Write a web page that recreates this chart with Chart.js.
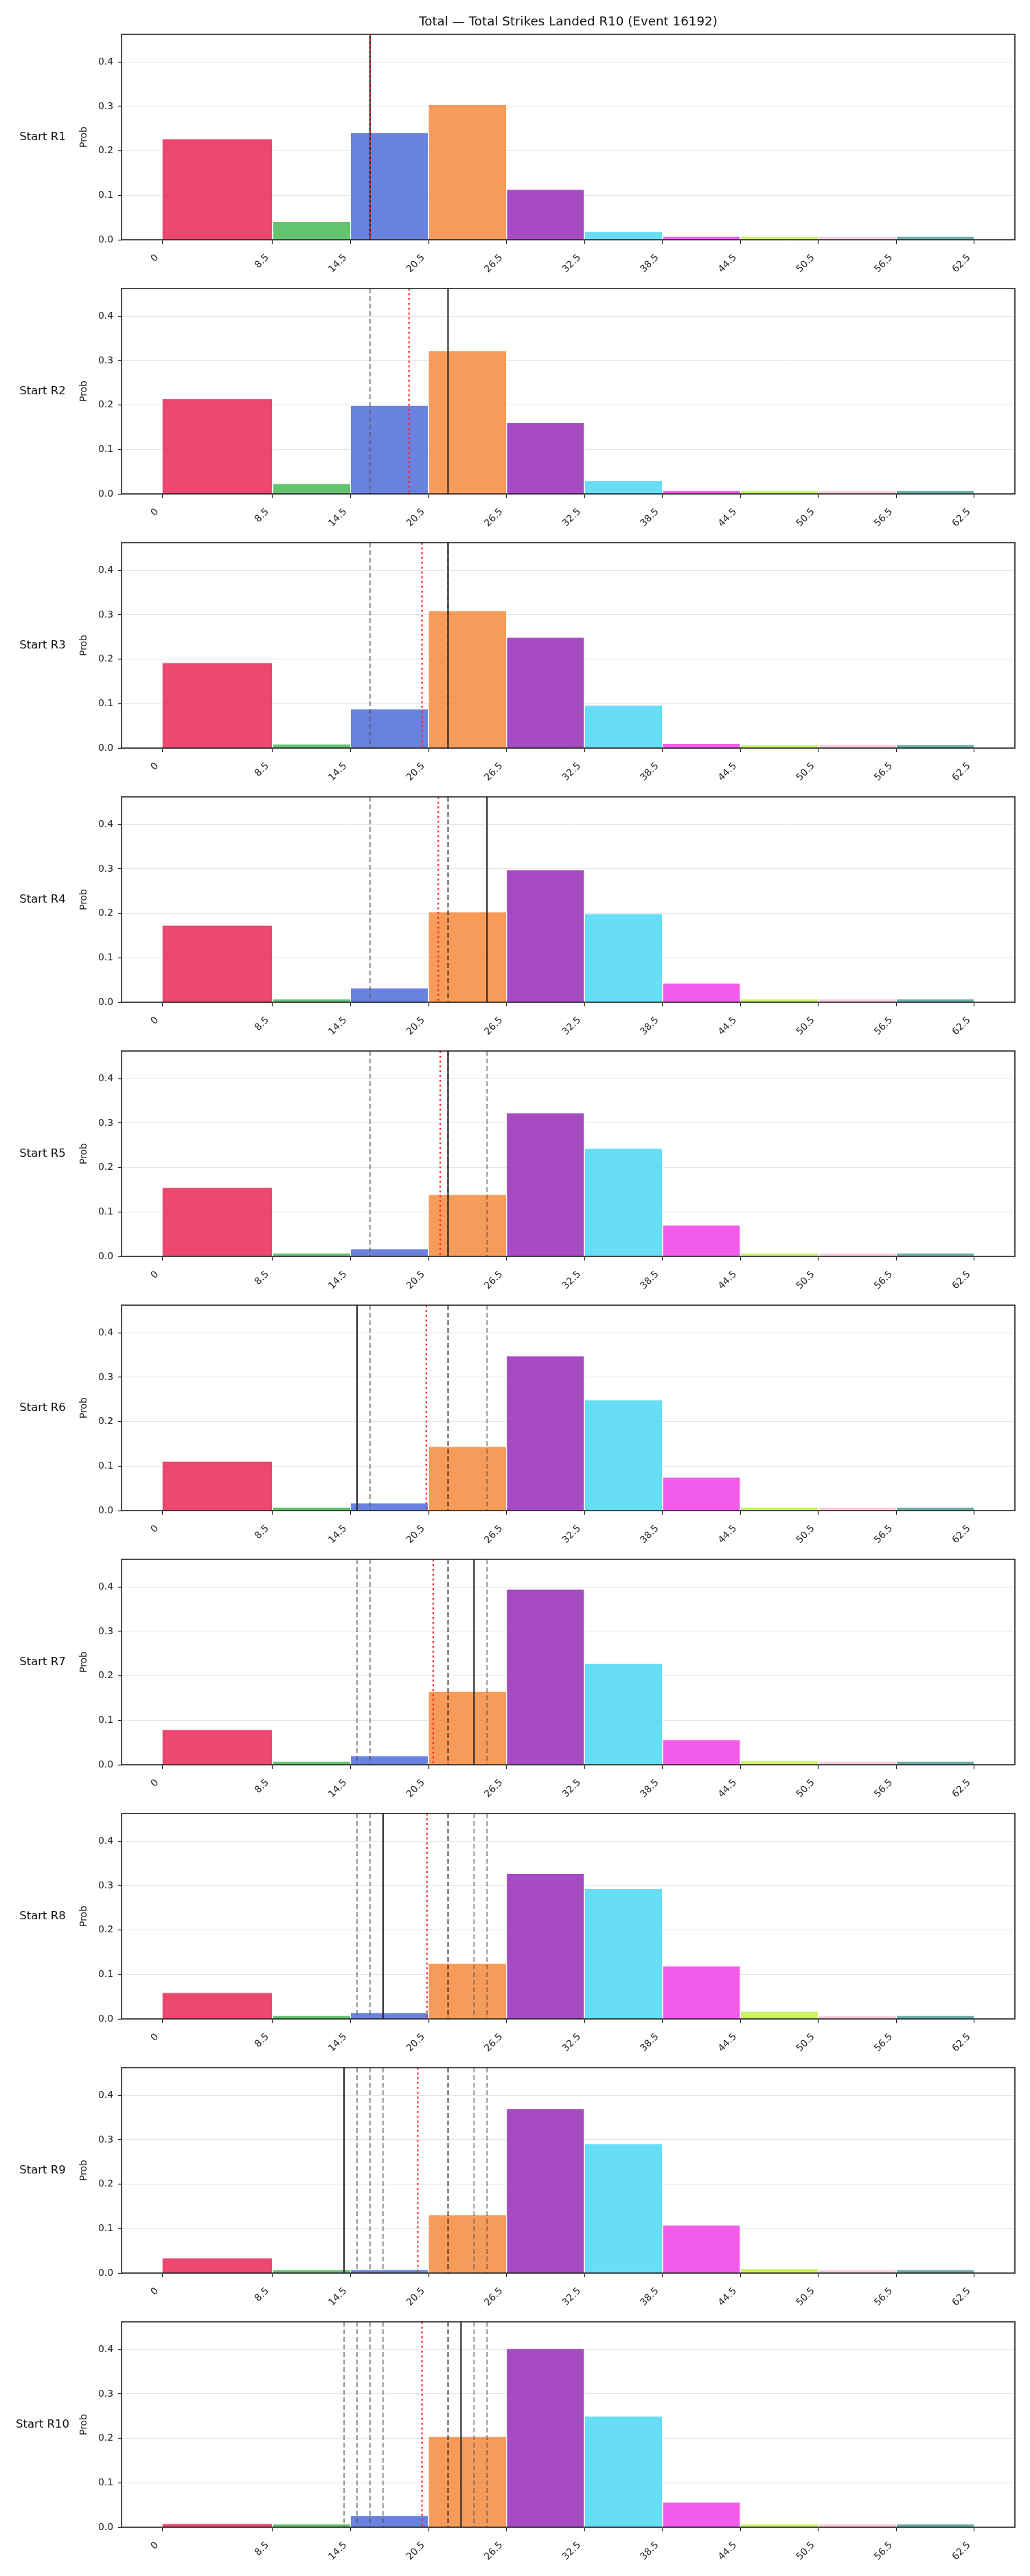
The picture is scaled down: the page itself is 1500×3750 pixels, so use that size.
<!DOCTYPE html>
<html>
<head>
<meta charset="utf-8">
<title>Total Strikes Landed R10</title>
<script src="https://cdn.jsdelivr.net/npm/chart.js@4.4.1/dist/chart.umd.min.js"></script>
<style>
  body { margin: 0; background: #fff; }
  #wrap { position: relative; width: 1500px; height: 3750px; }
  #wrap canvas { position: absolute; left: 0; }
</style>
</head>
<body>
<div id="wrap"></div>
<script>
"use strict";

/**
 * @file Tio histogram (ett per rond) över sannolikheten för antal landade slag.
 * Vertikala linjer visar utfall per rond, tidigare utfall och löpande medel.
 */

const chartTitle = "Total \u2014 Total Strikes Landed R10 (Event 16192)";
const binEdges = [0, 8.5, 14.5, 20.5, 26.5, 32.5, 38.5, 44.5, 50.5, 56.5, 62.5];
const tickLabels = ["0", "8.5", "14.5", "20.5", "26.5", "32.5", "38.5", "44.5", "50.5", "56.5", "62.5"];
const roundLabels = ["Start R1", "Start R2", "Start R3", "Start R4", "Start R5",
  "Start R6", "Start R7", "Start R8", "Start R9", "Start R10"];

const probR1 = [0.227, 0.041, 0.241, 0.304, 0.113, 0.018, 0.0075, 0.0075, 0.0075, 0.0075];
const probR2 = [0.214, 0.023, 0.199, 0.322, 0.160, 0.030, 0.0075, 0.0075, 0.0075, 0.0075];
const probR3 = [0.192, 0.009, 0.088, 0.309, 0.249, 0.096, 0.010, 0.0075, 0.0075, 0.0075];
const probR4 = [0.173, 0.0075, 0.032, 0.203, 0.298, 0.199, 0.043, 0.0075, 0.0075, 0.0075];
const probR5 = [0.155, 0.0075, 0.017, 0.139, 0.323, 0.243, 0.070, 0.0075, 0.0075, 0.0075];
const probR6 = [0.111, 0.0075, 0.017, 0.144, 0.348, 0.249, 0.075, 0.0075, 0.0075, 0.0075];
const probR7 = [0.079, 0.0075, 0.020, 0.165, 0.395, 0.228, 0.056, 0.009, 0.0075, 0.0075];
const probR8 = [0.059, 0.0075, 0.014, 0.125, 0.327, 0.293, 0.119, 0.017, 0.0075, 0.0075];
const probR9 = [0.034, 0.0075, 0.0075, 0.131, 0.370, 0.291, 0.108, 0.010, 0.0075, 0.0075];
const probR10 = [0.008, 0.0075, 0.026, 0.204, 0.402, 0.250, 0.056, 0.0075, 0.0075, 0.0075];
const roundProbs = [probR1, probR2, probR3, probR4, probR5, probR6, probR7, probR8, probR9, probR10];

// utfall i ronden (heldragen), löpande medel (röd prickad), vanligaste tidigare (svart streckad)
const actualLine = [16, 22, 22, 25, 22, 15, 24, 17, 14, 23];
const meanLine = [16, 19, 20, 21.25, 21.4, 20.33, 20.86, 20.38, 19.67, 20];
const modeLine = [null, null, 22, 22, 22, 22, 22, 22, 22, 22];
// tidigare utfall (grå streckad)
const previousLines = [
  [],
  [16],
  [16],
  [16],
  [16, 25],
  [16, 25],
  [15, 16, 25],
  [15, 16, 24, 25],
  [15, 16, 17, 24, 25],
  [14, 15, 16, 17, 24, 25],
];

const binColors = [
  "rgba(230,25,75,0.8)", "rgba(60,180,75,0.8)", "rgba(67,99,216,0.8)",
  "rgba(245,130,49,0.8)", "rgba(145,30,180,0.8)", "rgba(66,212,244,0.8)",
  "rgba(240,50,230,0.8)", "rgba(191,239,69,0.8)", "rgba(250,190,212,0.8)",
  "rgba(70,153,144,0.8)",
];

const FONT = "'DejaVu Sans', sans-serif";
Chart.defaults.font.family = FONT;
Chart.defaults.color = "#222";

const yTop = Math.max(...roundProbs.flat()) * 1.15;
const xPad = (binEdges[binEdges.length - 1] - binEdges[0]) * 0.05;

/**
 * Ritar de vertikala markeringslinjerna, ramen, x-etiketterna och radetiketten.
 */
const markerPlugin = {
  id: "markers",
  afterDatasetsDraw(chart, args, opts) {
    const { ctx, chartArea: a, scales } = chart;
    const vline = (v, color, width, dash) => {
      const x = scales.x.getPixelForValue(v);
      ctx.beginPath();
      ctx.strokeStyle = color;
      ctx.lineWidth = width;
      ctx.setLineDash(dash);
      ctx.moveTo(x, a.top);
      ctx.lineTo(x, a.bottom);
      ctx.stroke();
    };
    ctx.save();
    ctx.beginPath();
    ctx.rect(a.left, a.top, a.right - a.left, a.bottom - a.top);
    ctx.clip();
    opts.previous.forEach((v) => vline(v, "rgba(80,80,80,0.8)", 1.5, [7, 4]));
    if (opts.mode !== null) vline(opts.mode, "#111", 1.6, [7, 4]);
    vline(opts.actual, "#2b2b2b", 2.2, []);
    vline(opts.mean, "rgba(255,35,35,0.95)", 2.3, [2.7, 4.3]);
    ctx.restore();
  },
  afterDraw(chart, args, opts) {
    const { ctx, chartArea: a, scales } = chart;
    ctx.save();
    ctx.setLineDash([]);
    ctx.strokeStyle = "#222";
    ctx.lineWidth = 1.6;
    ctx.strokeRect(a.left, a.top, a.right - a.left, a.bottom - a.top);

    // x-etiketter, roterade 45 grader och högerjusterade mot tickmarken
    ctx.fillStyle = "#222";
    ctx.font = "13.9px " + FONT;
    ctx.textAlign = "right";
    ctx.textBaseline = "alphabetic";
    binEdges.forEach((v, i) => {
      const px = scales.x.getPixelForValue(v);
      ctx.save();
      ctx.translate(px - 5, a.bottom + 26.5);
      ctx.rotate(-Math.PI / 4);
      ctx.fillText(tickLabels[i], 0, 0);
      ctx.restore();
    });

    ctx.fillStyle = "#111";
    ctx.textAlign = "center";
    ctx.textBaseline = "middle";
    ctx.font = "16.5px " + FONT;
    ctx.fillText(opts.rowLabel, 62, (a.top + a.bottom) / 2);
    if (opts.title) {
      ctx.font = "18.3px " + FONT;
      ctx.textBaseline = "alphabetic";
      ctx.fillText(opts.title, (a.left + a.right) / 2, 37);
    }
    ctx.restore();
  },
};

/**
 * Skapar ett histogram för rond k.
 *
 * @param {number} k - Rondens index (0-9)
 * @returns {void}
 */
function createRoundChart(k) {
  const canvas = document.createElement("canvas");
  canvas.width = 1500;
  canvas.height = 420;
  canvas.style.top = 370 * k + "px";
  document.querySelector("#wrap").appendChild(canvas);

  const datasets = roundProbs[k].map((p, i) => ({
    data: [
      { x: binEdges[i], y: 0 },
      { x: binEdges[i], y: p },
      { x: binEdges[i + 1], y: p },
      { x: binEdges[i + 1], y: 0 },
    ],
    backgroundColor: binColors[i],
    borderColor: "#ffffff",
    borderWidth: 1,
    fill: "origin",
    pointRadius: 0,
    tension: 0,
  }));

  new Chart(canvas, {
    type: "line",
    data: { datasets: datasets },
    plugins: [markerPlugin],
    options: {
      responsive: false,
      animation: false,
      devicePixelRatio: 1,
      layout: { padding: { left: 110, top: 50, right: 22, bottom: 0 } },
      plugins: {
        legend: { display: false },
        tooltip: { enabled: false },
        markers: {
          previous: previousLines[k],
          mode: modeLine[k],
          actual: actualLine[k],
          mean: meanLine[k],
          rowLabel: roundLabels[k],
          title: k === 0 ? chartTitle : null,
        },
      },
      scales: {
        x: {
          type: "linear",
          min: binEdges[0] - xPad,
          max: binEdges[binEdges.length - 1] + xPad,
          afterBuildTicks: (scale) => {
            scale.ticks = binEdges.map((v) => ({ value: v }));
          },
          afterFit: (scale) => {
            scale.height = 71;
          },
          border: { display: false },
          grid: {
            drawOnChartArea: false,
            tickLength: 6,
            tickColor: "#222",
            tickWidth: 1.2,
          },
          ticks: { display: false },
        },
        y: {
          min: 0,
          max: yTop,
          afterFit: (scale) => {
            scale.width = 67;
          },
          border: { display: false },
          grid: {
            color: "#e5e5e5",
            lineWidth: 1,
            tickLength: 5,
            tickColor: "#222",
            tickWidth: 1.2,
          },
          title: {
            display: true,
            text: "Prob",
            font: { size: 13.9 },
            color: "#222",
            padding: { top: 4, bottom: 4 },
          },
          ticks: {
            stepSize: 0.1,
            includeBounds: false,
            padding: 7,
            font: { size: 13.9 },
            color: "#222",
            callback: (v) => v.toFixed(1),
          },
        },
      },
    },
  });
}

roundProbs.forEach((p, k) => createRoundChart(k));
</script>
</body>
</html>
